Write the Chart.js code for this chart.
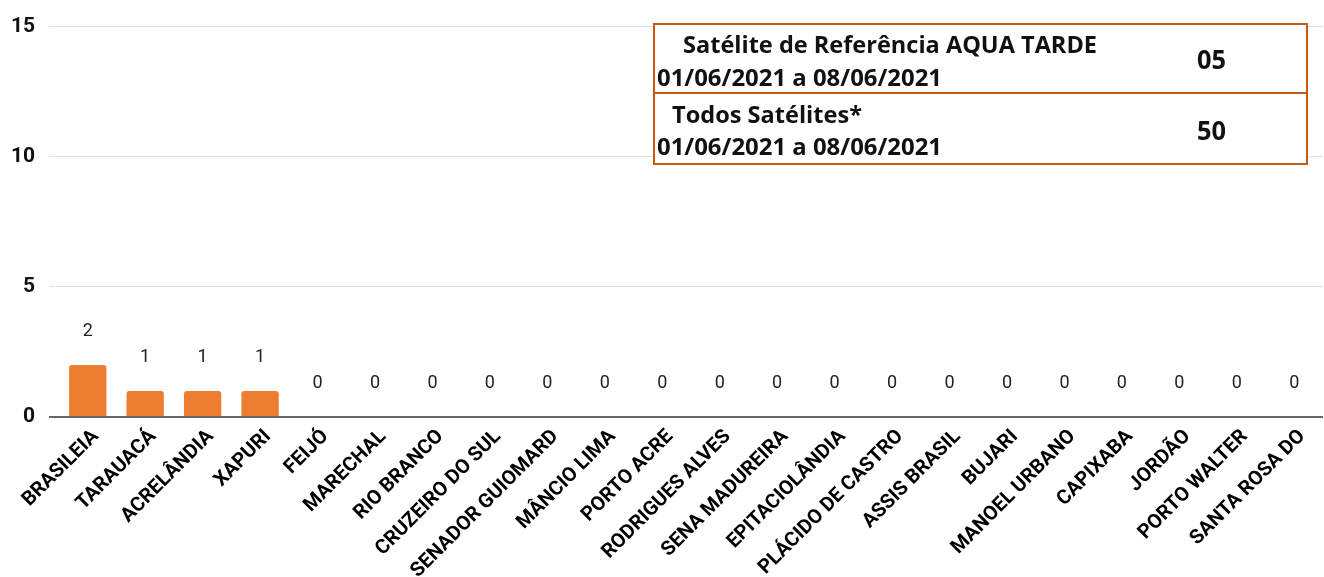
<!DOCTYPE html>
<html>
<head>
<meta charset="utf-8">
<script src="https://cdn.jsdelivr.net/npm/chart.js@4.4.1/dist/chart.umd.min.js"></script>
<style>
  html, body { margin: 0; padding: 0; background: #fff; overflow: hidden; }
  #focosChart { display: block; }
</style>
</head>
<body>
<canvas id="focosChart" width="1324" height="577"></canvas>
<script>
const municipios = [
  'BRASILEIA', 'TARAUACÁ', 'ACRELÂNDIA', 'XAPURI', 'FEIJÓ', 'MARECHAL', 'RIO BRANCO',
  'CRUZEIRO DO SUL', 'SENADOR GUIOMARD', 'MÂNCIO LIMA', 'PORTO ACRE', 'RODRIGUES ALVES',
  'SENA MADUREIRA', 'EPITACIOLÂNDIA', 'PLÁCIDO DE CASTRO', 'ASSIS BRASIL', 'BUJARI',
  'MANOEL URBANO', 'CAPIXABA', 'JORDÃO', 'PORTO WALTER', 'SANTA ROSA DO'
];
const focos = [2, 1, 1, 1, 0, 0, 0, 0, 0, 0, 0, 0, 0, 0, 0, 0, 0, 0, 0, 0, 0, 0];
const yTicks = [0, 5, 10, 15];

const refTitulo = 'Satélite de Referência AQUA TARDE';
const refPeriodo = '01/06/2021 a 08/06/2021';
const refTotal = '05';
const todosTitulo = 'Todos Satélites*';
const todosPeriodo = '01/06/2021 a 08/06/2021';
const todosTotal = '50';

const laranja = '#ED7D31';
const bordaTabela = '#C55A11';

// escreve o texto esticando/comprimindo para caber na largura medida
function fitText(ctx, text, left, baseline, width) {
  const w = ctx.measureText(text).width;
  ctx.save();
  ctx.translate(left, baseline);
  ctx.scale(width / w, 1);
  ctx.fillText(text, 0, 0);
  ctx.restore();
}

const valueLabels = {
  id: 'valueLabels',
  afterDatasetsDraw(chart) {
    const ctx = chart.ctx;
    const meta = chart.getDatasetMeta(0);
    ctx.save();
    ctx.font = '18px Roboto';
    ctx.fillStyle = '#222';
    ctx.textAlign = 'center';
    ctx.textBaseline = 'middle';
    meta.data.forEach((bar, i) => {
      ctx.fillText(String(focos[i]), bar.x, bar.y - 33.5);
    });
    ctx.restore();
  }
};

const resumoBox = {
  id: 'resumoBox',
  afterDraw(chart) {
    const ctx = chart.ctx;
    ctx.save();
    ctx.fillStyle = '#fff';
    ctx.fillRect(654, 24, 653, 140);
    ctx.strokeStyle = bordaTabela;
    ctx.lineWidth = 2;
    ctx.strokeRect(654, 24, 653, 140);
    ctx.beginPath();
    ctx.moveTo(654, 93);
    ctx.lineTo(1307, 93);
    ctx.stroke();

    ctx.fillStyle = '#111';
    ctx.textAlign = 'left';
    ctx.textBaseline = 'alphabetic';
    ctx.font = 'bold 24px "Open Sans"';
    fitText(ctx, refTitulo, 683, 53, 414);
    fitText(ctx, refPeriodo, 657, 86, 285);
    fitText(ctx, todosTitulo, 672, 123, 190);
    fitText(ctx, todosPeriodo, 657, 155, 285);
    ctx.font = 'bold 26px "Open Sans"';
    fitText(ctx, refTotal, 1197, 69, 29);
    fitText(ctx, todosTotal, 1197, 140, 29);
    ctx.restore();
  }
};

const gridColor = (c) => (c.tick && c.tick.value === 0 ? '#666' : '#e0e0e0');
const gridWidth = (c) => (c.tick && c.tick.value === 0 ? 2 : 1);

new Chart(document.getElementById('focosChart'), {
  type: 'bar',
  data: {
    labels: municipios,
    datasets: [{
      data: focos,
      backgroundColor: laranja,
      borderRadius: { topLeft: 3, topRight: 3 },
      borderSkipped: 'bottom',
      categoryPercentage: 1,
      barPercentage: 0.65
    }]
  },
  options: {
    responsive: false,
    devicePixelRatio: 1,
    animation: false,
    layout: { padding: { left: 10, top: 24, right: 1, bottom: 0 } },
    plugins: { legend: { display: false }, tooltip: { enabled: false } },
    scales: {
      x: {
        grid: { display: false },
        border: { display: false },
        ticks: {
          autoSkip: false,
          maxRotation: 45,
          minRotation: 45,
          labelOffset: 8,
          padding: 0,
          color: '#000',
          font: { family: 'Roboto', weight: 'bold', size: 20 }
        },
        afterFit(scale) { scale.height = 160; }
      },
      y: {
        min: 0,
        max: 15,
        afterBuildTicks(scale) { scale.ticks = yTicks.map((v) => ({ value: v })); },
        grid: {
          color: gridColor,
          lineWidth: gridWidth,
          tickColor: gridColor,
          tickWidth: gridWidth,
          tickLength: 10,
          drawTicks: true
        },
        border: { display: false },
        ticks: {
          padding: 14,
          color: '#111',
          font: { family: 'Roboto', weight: 'bold', size: 21 }
        },
        afterFit(scale) { scale.width = 49; }
      }
    }
  },
  plugins: [valueLabels, resumoBox]
});
</script>
</body>
</html>
